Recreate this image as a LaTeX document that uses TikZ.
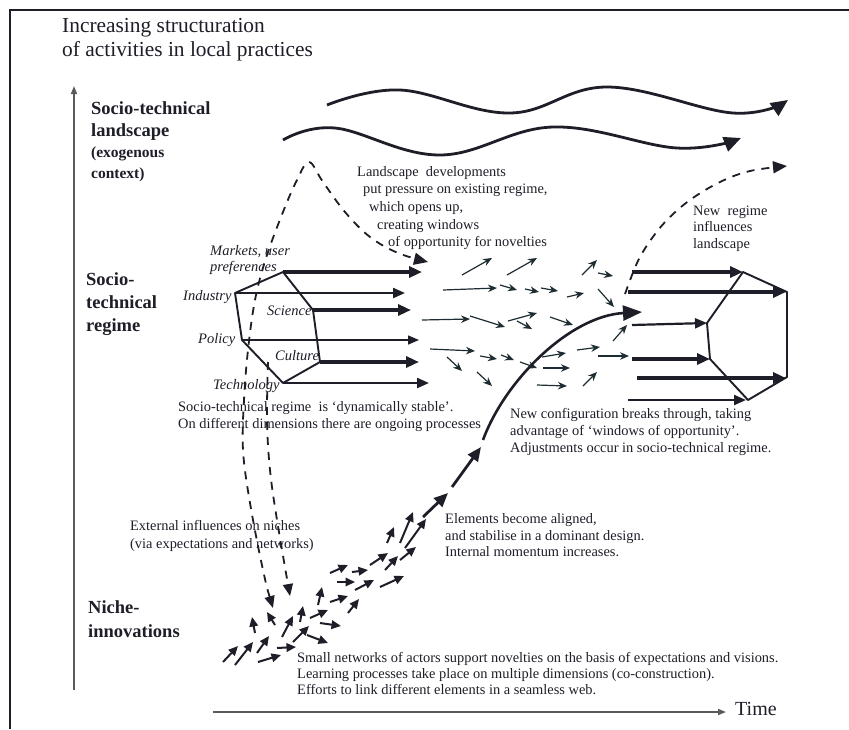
\documentclass[tikz,border=0pt]{standalone}
\usepackage{fontspec}
\setmainfont{Liberation Serif}
\usetikzlibrary{arrows.meta}
\definecolor{ink}{RGB}{30,30,40}
\definecolor{axisgray}{RGB}{90,90,90}
\definecolor{midink}{RGB}{30,45,50}
\tikzset{
  txt/.style={font=\fontsize{14.4}{17}\selectfont, anchor=west, inner sep=0pt, text=ink, text height=9.8pt, text depth=3.2pt},
  ital/.style={font=\fontsize{14.5}{17}\selectfont\itshape, anchor=west, inner sep=0pt, text=ink, text height=9.9pt, text depth=3.2pt},
  titletxt/.style={font=\fontsize{21.4}{24}\selectfont, anchor=west, inner sep=0pt, text=ink, text height=14.5pt, text depth=4.7pt},
  lvl/.style={font=\fontsize{18.5}{22}\selectfont\bfseries, anchor=west, inner sep=0pt, text=ink, text height=12.6pt, text depth=4pt},
  lvlsmall/.style={font=\fontsize{15.5}{20}\selectfont\bfseries, anchor=west, inner sep=0pt, text=ink, text height=10.5pt, text depth=3.4pt},
  timetxt/.style={font=\fontsize{20}{24}\selectfont, anchor=west, inner sep=0pt, text=ink, text height=13.6pt, text depth=4.4pt},
  wave/.style={line width=2.8pt, ink, -{Triangle[length=17pt,width=15pt]}},
  dashln/.style={line width=1.8pt, ink, dash pattern=on 8pt off 7pt},
  hexln/.style={line width=1.9pt, ink},
  thickarr/.style={line width=3.4pt, ink, -{Triangle[length=13pt,width=11pt]}},
  medarr/.style={line width=2.2pt, ink, -{Triangle[length=12pt,width=10pt]}},
  thinarr/.style={line width=1.5pt, ink, -{Triangle[length=11pt,width=9pt]}},
  nicharr/.style={line width=2pt, ink, -{Triangle[length=9.5pt,width=8.5pt]}},
  midarr/.style={line width=1.2pt, midink, -{Stealth[length=9pt,width=7.5pt]}},
  breakarr/.style={line width=2.8pt, ink, -{Triangle[length=14pt,width=12pt]}},
  axisarr/.style={line width=1.6pt, axisgray, -{Triangle[length=8pt,width=6pt]}}
}
\newcommand\nicheArrow[4]{\draw[nicharr] (#1,#2) -- (#3,#4);}
\newcommand\midArrow[4]{\draw[midarr] (#1,#2) -- (#3,#4);}
\begin{document}
\begin{tikzpicture}[x=1pt,y=-1pt]
\useasboundingbox (0,0) rectangle (849,729);
\fill[white] (0,0) rectangle (849,729);
% frame
\coordinate (frBL) at (10,729);
\coordinate (frTL) at (10,10);
\coordinate (frTR) at (849,10);
\draw[line width=1.6pt, ink] (frBL) -- (frTL) -- (frTR);
% axes
\coordinate (yaxB) at (74,690);
\coordinate (yaxT) at (74,86);
\draw[axisarr] (yaxB) -- (yaxT);
\coordinate (taxL) at (213,712);
\coordinate (taxR) at (726,712);
\draw[axisarr] (taxL) -- (taxR);
\node[timetxt] (time) at (735,711) {Time};
% title
\node[titletxt] (ti1) at (62,28) {Increasing structuration};
\node[titletxt] (ti2) at (62,52) {of activities in local practices};
% level labels
\node[lvl] (l1a) at (91,110) {Socio-technical};
\node[lvl] (l1b) at (91,132) {landscape};
\node[lvlsmall] (l1c) at (91,154) {(exogenous};
\node[lvlsmall] (l1d) at (91,175) {context)};
\node[lvl] (l2a) at (86,281) {Socio-};
\node[lvl] (l2b) at (86,304) {technical};
\node[lvl] (l2c) at (86,327) {regime};
\node[lvl] (l3a) at (88,609) {Niche-};
\node[lvl] (l3b) at (88,633) {innovations};
% landscape waves
\draw[wave] plot[smooth, tension=0.65] coordinates {(327,105) (400,90) (510,113) (607,87) (733,113) (788,100)};
\draw[wave] plot[smooth, tension=0.65] coordinates {(283,140) (335,128) (440,155) (553,127) (677,148) (741,138)};
% landscape dashed hat
\draw[dashln, {Triangle[length=12pt,width=10pt]}-{Triangle[length=14pt,width=12pt]}] plot[smooth, tension=0.6] coordinates {(273,608) (263,570) (250,503) (243,450) (244,400) (248,350) (255,300) (266,258) (283,212) (297,180) (309,162) (323,182) (345,212) (370,237) (398,253) (428,262)};
% regime dashed to niches
\coordinate (rd0) at (268,362);
\draw[dashln, -{Triangle[length=12pt,width=10pt]}] plot[smooth, tension=0.6] coordinates {(rd0) (267,420) (270,470) (277,520) (290,596)};
% new regime dashed to landscape
\draw[dashln, -{Triangle[length=14pt,width=12pt]}] plot[smooth, tension=0.6] coordinates {(625,294) (637,263) (650,241) (667,220) (690,200) (720,182) (750,171) (787,166)};
% regime hexagon
\coordinate (hM) at (283,272);
\coordinate (hI) at (235,293);
\coordinate (hS) at (313,310);
\coordinate (hP) at (242,340);
\coordinate (hC) at (320,362);
\coordinate (hT) at (283,383);
\draw[hexln, line join=round] (hM) -- (hI) -- (hP) -- (hT) -- (hC) -- (hS) -- cycle;
\coordinate (eM) at (422,272);
\coordinate (eI) at (405,293);
\coordinate (eS) at (411,310);
\coordinate (eP) at (419,340);
\coordinate (eC) at (419,362);
\coordinate (eT) at (429,383);
\draw[thickarr] (hM) -- (eM);
\draw[medarr] (hI) -- (eI);
\draw[thickarr] (hS) -- (eS);
\draw[thinarr] (hP) -- (eP);
\draw[thickarr] (hC) -- (eC);
\draw[medarr] (hT) -- (eT);
\node[ital] (lbM) at (210,252) {Markets, user};
\node[ital] (lbM2) at (210,268) {preferences};
\node[ital] (lbI) at (183,297) {Industry};
\node[ital] (lbS) at (267,312) {Science};
\node[ital] (lbP) at (198,340) {Policy};
\node[ital] (lbC) at (275,357) {Culture};
\node[ital] (lbT) at (213,386) {Technology};
% new regime hexagon
\coordinate (nA) at (743,272);
\coordinate (nB) at (787,292);
\coordinate (nC) at (787,377);
\coordinate (nD) at (748,400);
\coordinate (nE) at (710,359);
\coordinate (nF) at (707,323);
\draw[hexln, line join=round] (nA) -- (nB) -- (nC) -- (nD) -- (nE) -- (nF) -- cycle;
\coordinate (sA) at (632,272);
\coordinate (sB) at (628,292);
\coordinate (sF) at (632,325);
\coordinate (sE) at (632,359);
\coordinate (sC) at (637,378);
\coordinate (sD) at (628,400);
\coordinate (tB) at (786,292);
\coordinate (tC) at (786,378);
\coordinate (tD) at (746,400);
\draw[thickarr] (sA) -- (nA);
\draw[thickarr] (sB) -- (tB);
\draw[medarr] (sF) -- (nF);
\draw[thickarr] (sE) -- (nE);
\draw[thickarr] (sC) -- (tC);
\draw[medarr] (sD) -- (tD);
% middle scattered arrows
\midArrow{462}{275}{492}{258}
\midArrow{507}{275}{537}{258}
\midArrow{582}{275}{597}{260}
\midArrow{598}{273}{613}{276}
\midArrow{443}{290}{497}{288}
\midArrow{500}{285}{517}{290}
\midArrow{525}{289}{539}{292}
\midArrow{541}{288}{558}{291}
\midArrow{567}{297}{584}{293}
\midArrow{598}{289}{614}{307}
\midArrow{422}{320}{470}{319}
\midArrow{470}{316}{505}{327}
\midArrow{508}{321}{537}{313}
\midArrow{517}{321}{532}{329}
\midArrow{550}{317}{573}{325}
\midArrow{613}{341}{627}{325}
\midArrow{430}{349}{475}{351}
\midArrow{447}{357}{462}{371}
\midArrow{480}{356}{497}{359}
\midArrow{501}{355}{514}{360}
\midArrow{520}{362}{537}{368}
\midArrow{542}{357}{566}{353}
\midArrow{577}{350}{600}{347}
\midArrow{598}{356}{629}{356}
\midArrow{477}{372}{492}{386}
\midArrow{543}{368}{570}{368}
\midArrow{537}{385}{567}{386}
\midArrow{583}{386}{597}{372}
% niche arrows
\nicheArrow{223}{662}{238}{646}
\nicheArrow{235}{665}{253}{642}
\nicheArrow{257}{653}{269}{636}
\nicheArrow{258}{662}{281}{655}
\nicheArrow{277}{648}{296}{647}
\nicheArrow{255}{633}{252}{617}
\nicheArrow{275}{625}{267}{612}
\nicheArrow{282}{637}{293}{616}
\nicheArrow{293}{642}{309}{626}
\nicheArrow{307}{635}{328}{643}
\nicheArrow{300}{622}{303}{606}
\nicheArrow{310}{618}{328}{610}
\nicheArrow{320}{623}{341}{626}
\nicheArrow{318}{605}{322}{587}
\nicheArrow{330}{602}{348}{596}
\nicheArrow{348}{613}{359}{599}
\nicheArrow{330}{573}{348}{565}
\nicheArrow{337}{582}{355}{582}
\nicheArrow{352}{572}{368}{570}
\nicheArrow{355}{590}{374}{580}
\nicheArrow{370}{565}{388}{553}
\nicheArrow{380}{587}{404}{576}
\nicheArrow{385}{570}{398}{556}
\nicheArrow{400}{560}{416}{547}
\nicheArrow{387}{543}{394}{527}
\nicheArrow{400}{543}{413}{512}
\nicheArrow{405}{548}{426}{519}
% breakthrough chain
\coordinate (bk1a) at (423,517);
\coordinate (bk1b) at (448,493);
\coordinate (bk2a) at (452,487);
\coordinate (bk2b) at (481,447);
\coordinate (bk3a) at (483,440);
\coordinate (bk3b) at (642,312);
\draw[breakarr] (bk1a) -- (bk1b);
\draw[breakarr] (bk2a) -- (bk2b);
\draw[line width=2.6pt, ink, -{Triangle[length=19pt,width=15pt]}] (bk3a) .. controls (505,380) and (570,316) .. (bk3b);
% texts
\node[txt] (la1) at (357,173) {Landscape\ \ developments};
\node[txt] (la2) at (363,190) {put pressure on existing regime,};
\node[txt] (la3) at (369,208) {which opens up,};
\node[txt] (la4) at (377,226) {creating windows};
\node[txt] (la5) at (388,243) {of opportunity for novelties};
\node[txt] (nr1) at (693,212) {New\ \ regime};
\node[txt] (nr2) at (693,228) {influences};
\node[txt] (nr3) at (693,245) {landscape};
\node[txt] (rg1) at (178,408) {Socio-technical regime\ \ is ‘dynamically stable’.};
\node[txt] (rg2) at (178,425) {On different dimensions there are ongoing processes};
\node[txt] (nc1) at (510,415) {New configuration breaks through, taking};
\node[txt] (nc2) at (510,432) {advantage of ‘windows of opportunity’.};
\node[txt] (nc3) at (510,449) {Adjustments occur in socio-technical regime.};
\node[txt] (el1) at (445,520) {Elements become aligned,};
\node[txt] (el2) at (445,537) {and stabilise in a dominant design.};
\node[txt] (el3) at (445,553) {Internal momentum increases.};
\node[txt] (ex1) at (130,527) {External influences on niches};
\node[txt] (ex2) at (130,545) {(via expectations and networks)};
\node[txt] (sm1) at (297,659) {Small networks of actors support novelties on the basis of expectations and visions.};
\node[txt] (sm2) at (297,675) {Learning processes take place on multiple dimensions (co-construction).};
\node[txt] (sm3) at (297,691) {Efforts to link different elements in a seamless web.};
\end{tikzpicture}
\end{document}
